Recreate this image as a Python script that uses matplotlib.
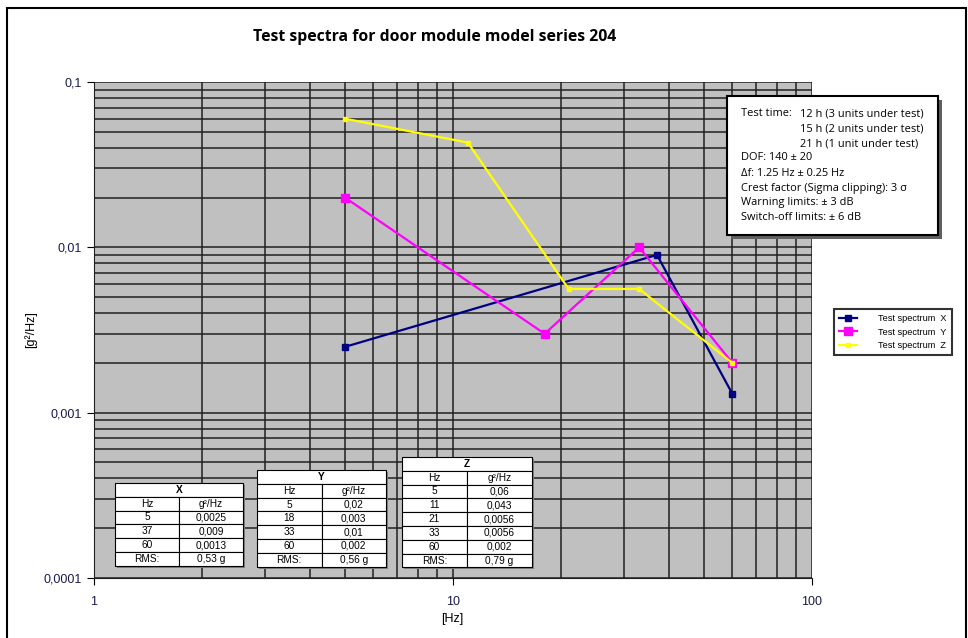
import matplotlib
matplotlib.use("Agg")
import matplotlib.pyplot as plt
from matplotlib.patches import Rectangle
from matplotlib.ticker import FixedLocator, LogLocator, NullFormatter

# Donnees des spectres
hz_x = [5, 37, 60]
psd_x = [0.0025, 0.009, 0.0013]
hz_y = [5, 18, 33, 60]
psd_y = [0.02, 0.003, 0.01, 0.002]
hz_z = [5, 11, 21, 33, 60]
psd_z = [0.06, 0.043, 0.0056, 0.0056, 0.002]

# Valeurs affichees dans les tableaux
tab_x = [["5", "0,0025"], ["37", "0,009"], ["60", "0,0013"], ["RMS:", "0,53 g"]]
tab_y = [["5", "0,02"], ["18", "0,003"], ["33", "0,01"], ["60", "0,002"], ["RMS:", "0,56 g"]]
tab_z = [["5", "0,06"], ["11", "0,043"], ["21", "0,0056"], ["33", "0,0056"],
         ["60", "0,002"], ["RMS:", "0,79 g"]]

info_lines = ["DOF: 140 ± 20", "Δf: 1.25 Hz ± 0.25 Hz",
              "Crest factor (Sigma clipping): 3 σ", "Warning limits: ± 3 dB",
              "Switch-off limits: ± 6 dB"]
test_times = ["12 h (3 units under test)", "15 h (2 units under test)",
              "21 h (1 unit under test)"]

W, H = 968, 638
fig = plt.figure(figsize=(W / 100, H / 100), dpi=100)
plt.rcParams["font.family"] = ["Liberation Sans", "DejaVu Sans"]

# cadre exterieur
fig.patches.append(Rectangle((7 / W, -0.01), 959 / W, 1 - 8 / H + 0.01, transform=fig.transFigure,
                             fill=False, edgecolor="black", lw=1.5))


def fx(px):
    return px / W


def fy(py):
    return 1 - py / H


ax = fig.add_axes([fx(94), fy(578), fx(812) - fx(94), fy(82) - fy(578)])
ax.set_facecolor("#c0c0c0")
ax.set_xscale("log")
ax.set_yscale("log")
ax.set_xlim(1, 100)
ax.set_ylim(0.0001, 0.1)
ax.xaxis.set_major_locator(FixedLocator([1, 10, 100]))
ax.yaxis.set_major_locator(FixedLocator([0.0001, 0.001, 0.01, 0.1]))
ax.xaxis.set_minor_locator(LogLocator(base=10, subs=range(2, 10)))
ax.yaxis.set_minor_locator(LogLocator(base=10, subs=range(2, 10)))
ax.xaxis.set_minor_formatter(NullFormatter())
ax.yaxis.set_minor_formatter(NullFormatter())
ax.set_xticklabels(["1", "10", "100"])
ax.set_yticklabels(["0,0001", "0,001", "0,01", "0,1"])
ax.tick_params(which="major", labelsize=9, labelcolor="#1a1a4a", length=5, direction="out")
ax.tick_params(which="minor", length=0)
ax.tick_params(axis="x", pad=8)
ax.grid(True, which="both", color="#202020", lw=1.1)
ax.set_axisbelow(True)
for s in ["top", "right"]:
    ax.spines[s].set_visible(False)
ax.spines["left"].set_color("#202020")
ax.spines["bottom"].set_color("#202020")

ax.plot(hz_x, psd_x, color="#000080", lw=1.6, marker="s", ms=5, label="Test spectrum  X", zorder=3)
ax.plot(hz_y, psd_y, color="#ff00ff", lw=1.6, marker="s", ms=6, label="Test spectrum  Y", zorder=3)
ax.plot(hz_z, psd_z, color="#ffff00", lw=1.6, marker="s", ms=3, label="Test spectrum  Z", zorder=3)

fig.text(fx(452), fy(619), "[Hz]", ha="center", va="center", fontsize=9)
fig.text(fx(31), fy(330), "[g²/Hz]", ha="center", va="center", rotation=90, fontsize=9)
fig.text(fx(435), fy(37), "Test spectra for door module model series 204", ha="center", va="center",
         fontsize=11.3, fontweight="bold", family=["Open Sans", "DejaVu Sans"])


# tableaux dessines en pixels
def draw_table(x0, y0, w, title, rows):
    rh = 13.8
    allrows = [[title], ["Hz", "g²/Hz"]] + rows
    hgt = rh * len(allrows)
    fig.patches.append(Rectangle((fx(x0 + 2), fy(y0 + hgt + 2)), fx(w), hgt / H, transform=fig.transFigure,
                                 facecolor="#808080", edgecolor="none", zorder=4))
    for i, r in enumerate(allrows):
        top = y0 + i * rh
        if len(r) == 1:
            cells = [(x0, w, r[0])]
        else:
            cells = [(x0, w / 2, r[0]), (x0 + w / 2, w / 2, r[1])]
        for cx, cw, txt in cells:
            fig.patches.append(Rectangle((fx(cx), fy(top + rh)), fx(cw), rh / H, transform=fig.transFigure,
                                         facecolor="white", edgecolor="black", lw=0.8, zorder=5))
            fig.text(fx(cx + cw / 2), fy(top + rh / 2), txt, ha="center", va="center", fontsize=7.3,
                     fontweight="bold" if len(r) == 1 else "normal", zorder=6)


draw_table(115, 483, 128, "X", tab_x)
draw_table(257, 470, 129, "Y", tab_y)
draw_table(402, 457, 130, "Z", tab_z)

# boite d'information
fig.patches.append(Rectangle((fx(731), fy(239)), fx(211), 139 / H, transform=fig.transFigure,
                             facecolor="#606060", edgecolor="none", zorder=4))
fig.patches.append(Rectangle((fx(727), fy(235)), fx(211), 139 / H, transform=fig.transFigure,
                             facecolor="white", edgecolor="black", lw=1.5, zorder=5))
bfont = dict(fontsize=7.9, va="center", ha="left", zorder=6, family=["Open Sans", "DejaVu Sans"])
fig.text(fx(741), fy(114), "Test time:", **bfont)
for i, t in enumerate(test_times):
    fig.text(fx(800), fy(114 + i * 14.8), t, **bfont)
for i, t in enumerate(info_lines):
    fig.text(fx(741), fy(158 + i * 15), t, **bfont)

# legende
leg = ax.legend(loc="upper left", bbox_to_anchor=(fx(834), fy(309)), bbox_transform=fig.transFigure,
                fontsize=6.6, frameon=True, fancybox=False, handlelength=2.0, borderpad=0.55,
                labelspacing=0.5, handletextpad=2.3, borderaxespad=0)
leg.get_frame().set_edgecolor("black")
leg.get_frame().set_linewidth(1.5)

fig.savefig("out.png", dpi=100)
